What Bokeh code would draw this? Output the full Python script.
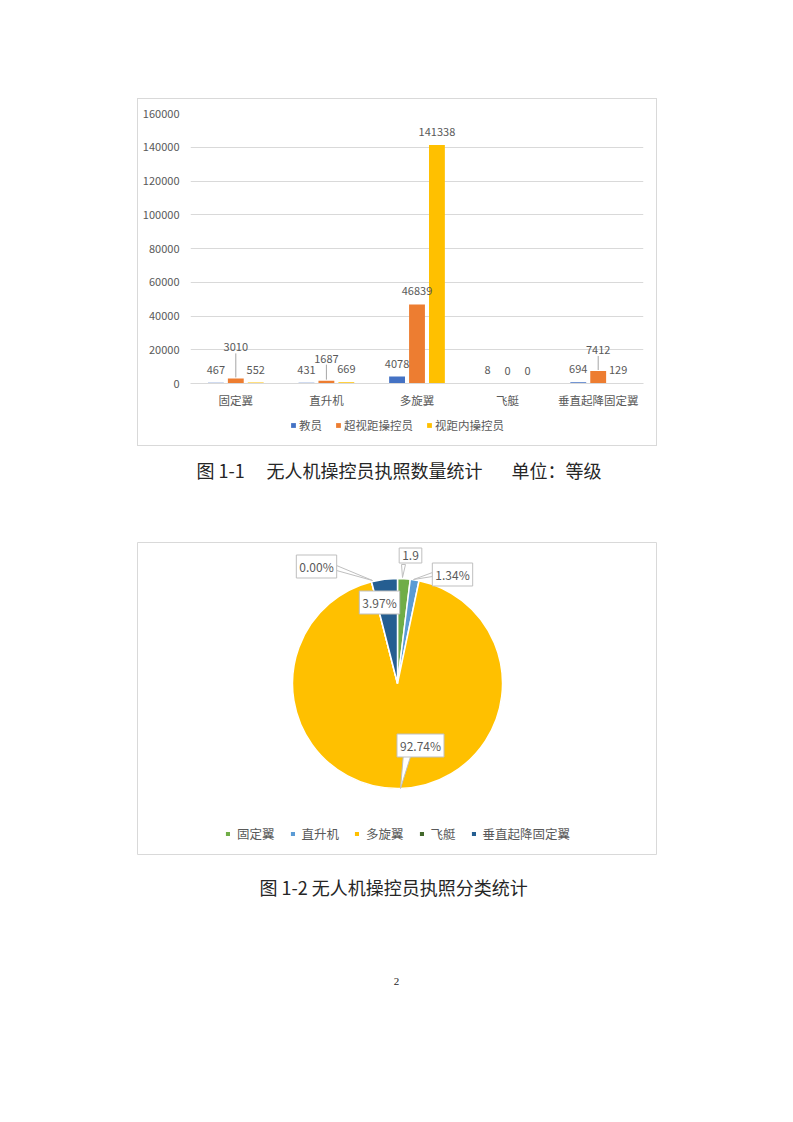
import numpy as np
from bokeh.plotting import figure
from bokeh.models import (ColumnDataSource, Range1d, FactorRange, FixedTicker,
                          NumeralTickFormatter, LabelSet, Legend, LegendItem, Spacer)
from bokeh.layouts import column, row
from bokeh.transform import dodge
from bokeh.core.properties import value
from bokeh.embed import file_html
from bokeh.resources import INLINE

# ---------------- data ----------------
categories = ["固定翼", "直升机", "多旋翼", "飞艇", "垂直起降固定翼"]
series_names = ["教员", "超视距操控员", "视距内操控员"]
instructors = [467, 431, 4078, 8, 694]
bvlos = [3010, 1687, 46839, 0, 7412]
vlos = [552, 669, 141338, 0, 129]
y_ticks = [0, 20000, 40000, 60000, 80000, 100000, 120000, 140000, 160000]

pie_names = categories
pie_totals = [a + b + c for a, b, c in zip(instructors, bvlos, vlos)]
pie_label_texts = ["1.9", "1.34%", "92.74%", "0.00%", "3.97%"]

caption1_parts = ["图 1-1", "无人机操控员执照数量统计", "单位：等级"]
caption2 = "图 1-2 无人机操控员执照分类统计"
page_number = "2"

# ---------------- styles ----------------
FONT = "Noto Sans CJK SC"
GRAY_TXT = "#595959"
BOX_LINE = "#d9d9d9"
CAP_COLOR = "#262626"
bar_colors = ["#4472C4", "#ED7D31", "#FFC000"]
pie_colors = ["#70AD47", "#5B9BD5", "#FFC000", "#43682B", "#255E91"]
bar_offsets = [-0.22, 0.0, 0.22]
bvlos_label_raise_px = [18, 9, 0, 0, 8]   # extra lift of crowded labels

# ---------------- bar chart ----------------
FRAME_H = 270
p = figure(width=518, height=318, x_range=FactorRange(*categories),
           y_range=Range1d(0, 160000), output_backend="svg", toolbar_location=None,
           min_border_left=52, min_border_right=13, min_border_top=14,
           min_border_bottom=34)
p.outline_line_color = None
p.xgrid.grid_line_color = None
p.ygrid.grid_line_color = BOX_LINE
p.yaxis.ticker = FixedTicker(ticks=y_ticks)
p.yaxis.formatter = NumeralTickFormatter(format="0")
p.yaxis.axis_line_color = None
p.yaxis.major_tick_line_color = None
p.yaxis.minor_tick_line_color = None
p.yaxis.major_label_standoff = 5
p.xaxis.axis_line_color = BOX_LINE
p.xaxis.major_tick_line_color = None
p.xaxis.minor_tick_line_color = None
p.xaxis.major_label_standoff = 2
for ax, sz in ((p.yaxis, "11px"), (p.xaxis, "11.5px")):
    ax.major_label_text_font = FONT
    ax.major_label_text_font_size = sz
    ax.major_label_text_color = GRAY_TXT

scale = 160000 / FRAME_H
src = ColumnDataSource(dict(cat=categories, s0=instructors, s1=bvlos, s2=vlos))
for key, off, col in zip(["s0", "s1", "s2"], bar_offsets, bar_colors):
    p.vbar(x=dodge("cat", off, range=p.x_range), top=key, width=0.175,
           source=src, fill_color=col, line_color=None)
    vals = src.data[key]
    raise_px = bvlos_label_raise_px if key == "s1" else [0] * len(vals)
    lsrc = ColumnDataSource(dict(cat=categories,
                                 y=[v + (13 + rp) * scale for v, rp in zip(vals, raise_px)],
                                 t=[str(v) for v in vals]))
    p.add_layout(LabelSet(x=dodge("cat", off, range=p.x_range), y="y", text="t",
                          source=lsrc, text_align="center", text_baseline="middle",
                          text_font=value(FONT), text_font_size="11px",
                          text_color=GRAY_TXT))
    if key == "s1":
        idx = [j for j, rp in enumerate(raise_px) if rp > 0]
        seg = ColumnDataSource(dict(cat=[categories[j] for j in idx],
                                    y0=[vals[j] + 1 * scale for j in idx],
                                    y1=[vals[j] + (13 + raise_px[j] - 6) * scale for j in idx]))
        p.segment(x0=dodge("cat", off, range=p.x_range), y0="y0",
                  x1=dodge("cat", off, range=p.x_range), y1="y1",
                  source=seg, line_color="#a6a6a6", line_width=1)

# legend strip under the bar chart (centred on the chart box);
# proxy renderers lie outside the visible range, only their legend swatches show
lf = figure(width=518, height=28, x_range=Range1d(0, 1), y_range=Range1d(0, 1),
            x_axis_type=None, y_axis_type=None, min_border=0,
            output_backend="svg", toolbar_location=None)
lf.outline_line_color = None
lf.grid.visible = False
items = []
for col, name in zip(bar_colors, series_names):
    rr = lf.vbar(x=[-10], top=[-10], bottom=[-11], width=0.1, fill_color=col,
                 line_color=None)
    items.append(LegendItem(label=name, renderers=[rr]))
lf.add_layout(Legend(items=items, orientation="horizontal", location=(100, 12),
                     glyph_width=6, glyph_height=6, label_height=14, label_standoff=3,
                     spacing=13, padding=0, margin=0, border_line_color=None,
                     background_fill_color=None, label_text_font=FONT,
                     label_text_font_size="11.5px", label_text_color=GRAY_TXT))

# ---------------- pie chart ----------------
R = 105
q = figure(width=520, height=313, x_range=Range1d(-260, 260), y_range=Range1d(-172, 141),
           x_axis_type=None, y_axis_type=None, min_border=0,
           output_backend="svg", toolbar_location=None)
q.outline_line_color = BOX_LINE
q.grid.visible = False

tot = float(sum(pie_totals))
frac = np.array(pie_totals, dtype=float) / tot
cum = np.concatenate([[0.0], np.cumsum(frac)])
psrc = ColumnDataSource(dict(name=pie_names, value=pie_totals, color=pie_colors,
                             start=list(np.pi / 2 - 2 * np.pi * cum[:-1]),
                             end=list(np.pi / 2 - 2 * np.pi * cum[1:])))
q.wedge(x=0, y=0, radius=R, start_angle="start", end_angle="end", direction="clock",
        fill_color="color", line_color="white", line_width=1.5,
        legend_field="name", source=psrc)

# label layout (px relative to pie centre) and callout pointers
label_pos = [(13, 128), (55, 109), (23, -62), (-81, 117), (-18, 81)]
pointers = [
    [(4, 119), (8, 119), (5, 106)],
    [(35, 107), (35, 111), (16, 104)],
    [(6, -70), (14, -70), (3, -105)],
    [(-61, 113), (-61, 118), (-25, 103)],
]
q.patches(xs=[[pt[0] for pt in tri] for tri in pointers],
          ys=[[pt[1] for pt in tri] for tri in pointers],
          fill_color="white", line_color="#bfbfbf", line_width=1)
plsrc = ColumnDataSource(dict(x=[a for a, b in label_pos], y=[b for a, b in label_pos],
                              t=pie_label_texts))
q.text(x="x", y="y", text="t", source=plsrc, text_align="center",
       text_baseline="middle", text_font=value(FONT),
       text_font_size="12px", text_color=GRAY_TXT,
       background_fill_color="white", border_line_color="#bfbfbf",
       padding=3)

q.legend.location = "bottom_center"
q.legend.orientation = "horizontal"
q.legend.glyph_width = 7
q.legend.glyph_height = 7
q.legend.label_height = 14
q.legend.label_standoff = 6
q.legend.spacing = 14
q.legend.padding = 0
q.legend.margin = 12
q.legend.border_line_color = None
q.legend.background_fill_color = None
q.legend.label_text_font = FONT
q.legend.label_text_font_size = "12.5px"
q.legend.label_text_color = GRAY_TXT


# ---------------- captions ----------------
def text_fig(h):
    f = figure(width=785, height=h, x_range=Range1d(0, 785), y_range=Range1d(h, 0),
               x_axis_type=None, y_axis_type=None, min_border=0,
               output_backend="svg", toolbar_location=None)
    f.outline_line_color = None
    f.grid.visible = False
    return f


cap1 = text_fig(96)
cap1.text(x=[196, 266, 511], y=[23, 23, 23], text=caption1_parts,
          text_font=value(FONT), text_font_size="18px", text_color=CAP_COLOR,
          text_baseline="middle", text_align="left")

cap2 = text_fig(145)
cap2.text(x=[259], y=[31], text=[caption2], text_font=value(FONT),
          text_font_size="18px", text_color=CAP_COLOR, text_baseline="middle",
          text_align="left")
cap2.text(x=[396], y=[126], text=[page_number], text_font=value("Liberation Serif"),
          text_font_size="11px", text_color=CAP_COLOR, text_baseline="middle",
          text_align="center")


# ---------------- page layout ----------------
def hline(w):
    return Spacer(width=w, height=1, styles={"background-color": BOX_LINE})


def vline(h):
    return Spacer(width=1, height=h, styles={"background-color": BOX_LINE})


bar_box = column(hline(520), row(vline(346), column(p, lf), vline(346)), hline(520))

layout = column(Spacer(width=785, height=98),
                row(Spacer(width=137, height=348), bar_box),
                cap1,
                row(Spacer(width=137, height=313), q),
                cap2)

open("out.html", "w").write(file_html(layout, INLINE))
